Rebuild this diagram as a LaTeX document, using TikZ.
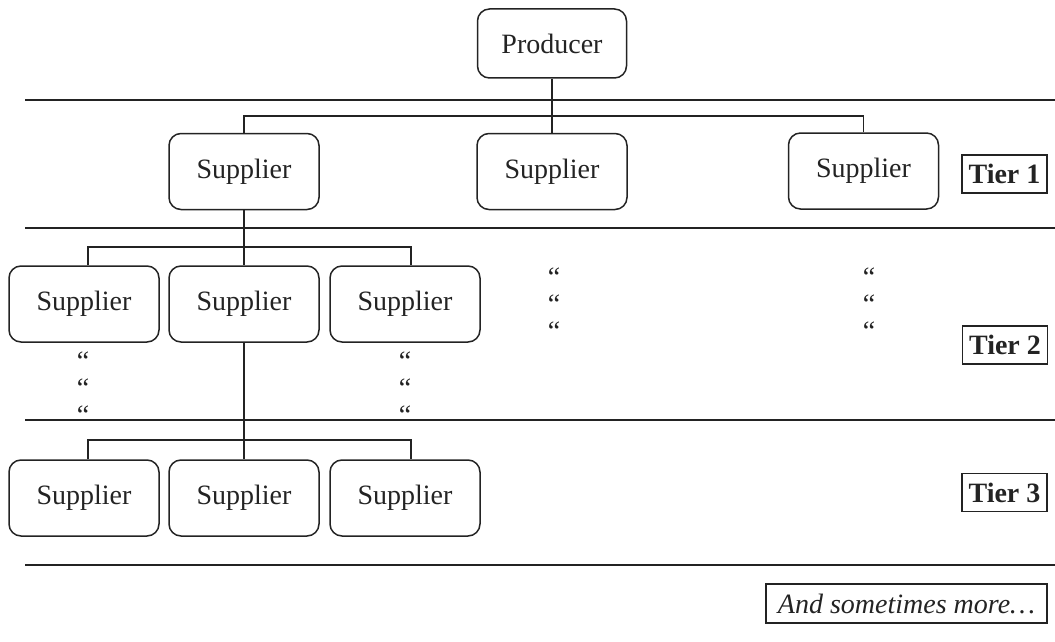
\documentclass[tikz,border=0pt]{standalone}
\usepackage{fontspec}
\setmainfont{Liberation Serif}
\usetikzlibrary{calc}
\definecolor{ink}{RGB}{35,35,35}
\begin{document}
\begin{tikzpicture}[x=1pt,y=-1pt,
  every node/.style={font=\fontsize{28}{33}\selectfont, text=ink},
  box/.style={draw=ink, line width=1.5pt, rounded corners=12pt, minimum width=150pt, minimum height=76pt, inner sep=0pt},
  tierbox/.style={draw=ink, line width=1.3pt, minimum width=85pt, minimum height=38pt, inner sep=0pt, font=\fontsize{28}{33}\selectfont\bfseries},
  morebox/.style={draw=ink, line width=1.3pt, minimum width=281pt, minimum height=39pt, inner sep=0pt, font=\fontsize{28}{33}\selectfont\itshape},
  link/.style={draw=ink, line width=1.5pt},
  rule/.style={draw=ink, line width=1.5pt},
  ditto/.style={inner sep=0pt, anchor=base}]
\useasboundingbox (0,0) rectangle (1055,642);

% horizontal rules
\draw[rule] (25,100) -- (1055,100);
\draw[rule] (25,228) -- (1055,228);
\draw[rule] (25,420) -- (1055,420);
\draw[rule] (25,565) -- (1055,565);

% nodes
\node[box, minimum width=149pt, minimum height=69pt] (prod) at (552,43.5) {Producer};
\node[box] (t1a) at (244,171.5) {Supplier};
\node[box] (t1b) at (552,171.5) {Supplier};
\node[box] (t1c) at (863.5,171) {Supplier};

\node[box] (t2a) at (84,304) {Supplier};
\node[box] (t2b) at (244,304) {Supplier};
\node[box] (t2c) at (405,304) {Supplier};

\node[box] (t3a) at (84,498) {Supplier};
\node[box] (t3b) at (244,498) {Supplier};
\node[box] (t3c) at (405,498) {Supplier};

\node[tierbox] (tier1) at (1004.5,174) {Tier 1};
\node[tierbox] (tier2) at (1005,345) {Tier 2};
\node[tierbox] (tier3) at (1004.5,492.5) {Tier 3};
\node[morebox] (more) at (906.5,603.5) {And sometimes more…};

% ditto marks
\foreach \x/\y [count=\i] in {83/355,83/382,83/409,405/355,405/382,405/409,554/271,554/298,554/325,869/271,869/298,869/325}
  \node[ditto] (d\i) at (\x,\y+15) {“};

% connectors
\coordinate (b1) at (552,116);
\draw[link] (prod.south) -- (b1);
\draw[link] (t1a.north) |- (b1) -| (t1c.north);
\draw[link] (b1) -- (t1b.north);

\coordinate (b2) at (244,247);
\draw[link] (t1a.south) -- (b2);
\draw[link] ([xshift=4pt]t2a.north) |- (b2) -| ([xshift=6pt]t2c.north);
\draw[link] (b2) -- (t2b.north);

\coordinate (b3) at (244,440);
\draw[link] (t2b.south) -- (b3);
\draw[link] ([xshift=4pt]t3a.north) |- (b3) -| ([xshift=6pt]t3c.north);
\draw[link] (b3) -- (t3b.north);
\end{tikzpicture}
\end{document}
